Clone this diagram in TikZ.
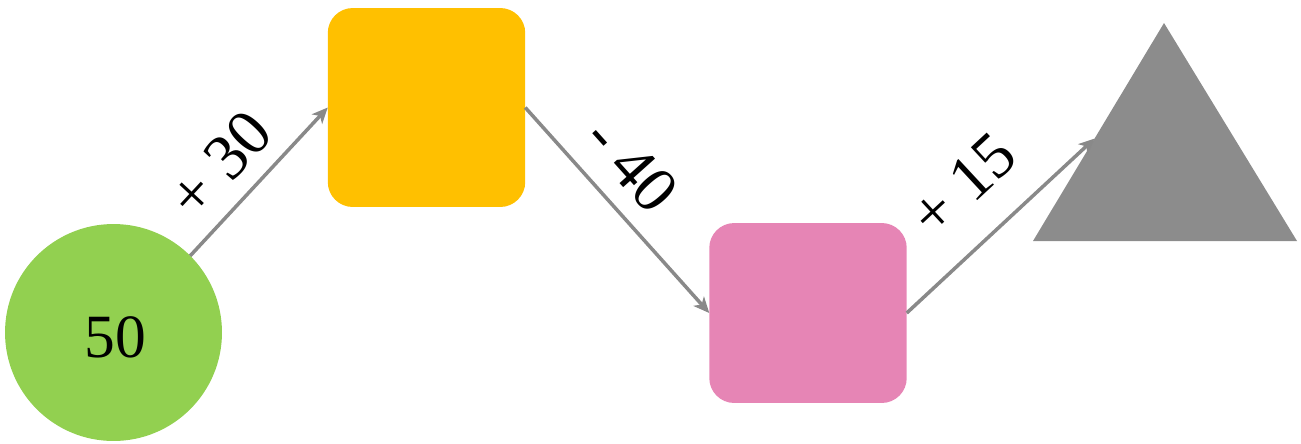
\documentclass[tikz,border=0pt]{standalone}
\usepackage{fontspec}
\setmainfont{Liberation Serif}
\usetikzlibrary{arrows.meta,calc}
\definecolor{cgreen}{HTML}{92D050}
\definecolor{corange}{HTML}{FFC000}
\definecolor{cpink}{HTML}{E685B5}
\definecolor{cgray}{HTML}{8C8C8C}
\definecolor{carrow}{HTML}{898989}
\tikzset{
  bigtext/.style={font=\fontsize{35}{42}\selectfont},
  lbltext/.style={font=\fontsize{37}{44}\selectfont},
  roundbox/.style={rounded corners=0.5cm, minimum width=3.95cm, inner sep=0pt, outer sep=0pt},
  flow/.style={draw=carrow, line width=2pt, -{Stealth[length=9pt,width=8pt,inset=2.5pt]}},
  lbl/.style={lbltext, sloped, inner sep=0pt}
}
\begin{document}
\begin{tikzpicture}[x=0.02cm,y=-0.02cm]
\useasboundingbox (0,0) rectangle (1301,443);
% shapes
\node[circle, fill=cgreen, minimum size=4.34cm, inner sep=0pt, outer sep=0pt] (c) at (113.5,332.5) {};
\node[bigtext, inner sep=0pt] (ct) at (115,337) {50};
\node[roundbox, fill=corange, minimum height=3.98cm] (o) at (426.5,107.5) {};
\node[roundbox, fill=cpink, minimum height=3.6cm] (p) at (808,313) {};
\coordinate (tA) at (1164,23);
\coordinate (tL) at (1033,241);
\coordinate (tR) at (1297,241);
\fill[cgray] (tA) -- (tL) -- (tR) -- cycle;
\coordinate (tin) at ($(tA)!0.53!(tL)$);
% connectors
\draw[flow] (c.45) -- node[lbl, pos=0.43, above=9.5pt] {+ 30} (o.west);
\draw[flow] (o.east) -- node[lbl, pos=0.41, above=10pt] {- 40} (p.west);
\draw[flow] (p.east) -- node[lbl, pos=0.50, above=18pt] {+ 15} (tin);
\end{tikzpicture}
\end{document}
